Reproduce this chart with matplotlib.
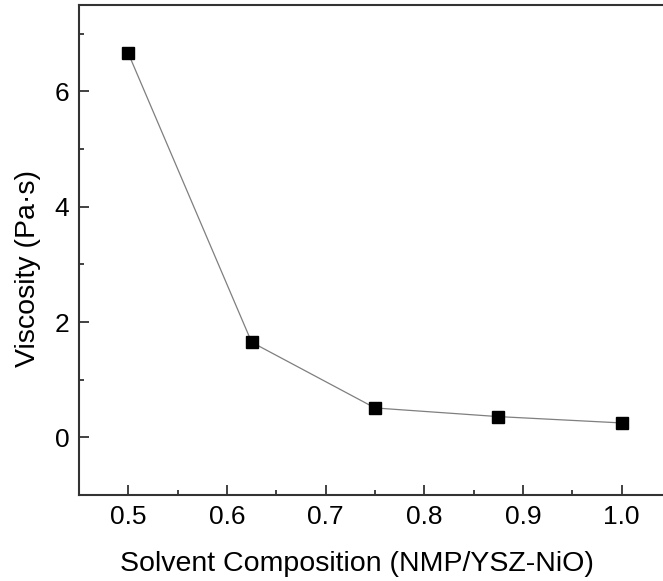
import matplotlib
matplotlib.use("Agg")
import matplotlib.pyplot as plt
from matplotlib.ticker import MultipleLocator

# dados
composicao = [0.5, 0.625, 0.75, 0.875, 1.0]
viscosidade = [6.66, 1.65, 0.51, 0.36, 0.25]

plt.rcParams['font.family'] = ['Liberation Sans', 'DejaVu Sans']

fig = plt.figure(figsize=(6.63, 5.81), dpi=100)
ax = fig.add_axes([79 / 663, 1 - 495 / 581, (671 - 79) / 663, (495 - 5) / 581])

ax.plot(composicao, viscosidade, color="#7f7f7f", linewidth=0.9,
        marker="s", markersize=8.5, markerfacecolor="black",
        markeredgecolor="black", zorder=3)

ax.set_xlim(0.45, 1.05)
ax.set_ylim(-1, 7.5)
ax.xaxis.set_major_locator(MultipleLocator(0.1))
ax.xaxis.set_minor_locator(MultipleLocator(0.05))
ax.yaxis.set_major_locator(MultipleLocator(2))
ax.yaxis.set_minor_locator(MultipleLocator(1))
ax.xaxis.set_major_formatter(matplotlib.ticker.FormatStrFormatter('%.1f'))

ax.tick_params(which="both", direction="in", top=False, right=False,
               width=1.3, color="#333333", labelsize=19, pad=7)
ax.tick_params(which="major", length=7)
ax.tick_params(which="minor", length=3.5)

for s in ax.spines.values():
    s.set_linewidth(1.5)
    s.set_color("#333333")

ax.set_xlabel("Solvent Composition (NMP/YSZ-NiO)", fontsize=20.5)
ax.set_ylabel("Viscosity (Pa·s)", fontsize=20.5)
ax.xaxis.set_label_coords(0.47, -0.114)
ax.yaxis.set_label_coords(-0.065, 0.463)

fig.savefig("out.png", dpi=100)
